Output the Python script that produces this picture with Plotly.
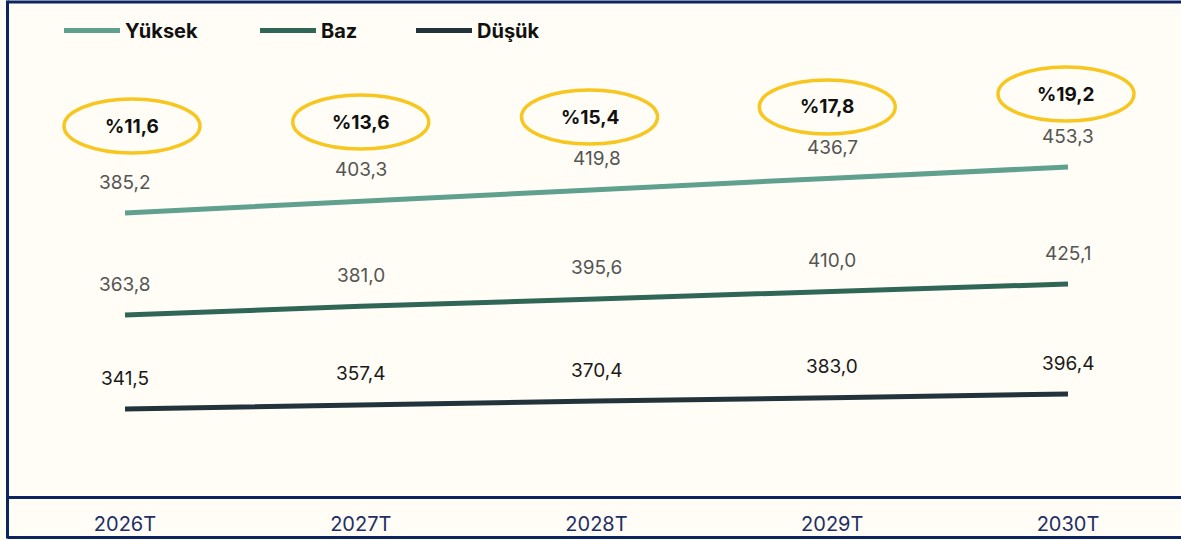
import plotly.graph_objects as go

# ---- data ----
years = ["2026T", "2027T", "2028T", "2029T", "2030T"]
yuksek = [385.2, 403.3, 419.8, 436.7, 453.3]
baz = [363.8, 381.0, 395.6, 410.0, 425.1]
dusuk = [341.5, 357.4, 370.4, 383.0, 396.4]
shares = ["%11,6", "%13,6", "%15,4", "%17,8", "%19,2"]

# ---- style ----
W, H = 1181, 540
M_B = 43
PH = H - M_B  # plot height in px
BG = "#FFFDF6"
NAVY = "#0C2461"
YELLOW = "#F7C620"
C_Y, C_B, C_D = "#5FA08E", "#2F6656", "#22333B"
FONT = "Inter, Open Sans, sans-serif"


def fmt(v):
    return f"{v:.1f}".replace(".", ",")


def py2paper(py):
    return (PH - py) / PH


def px2paper(px):
    return px / W


fig = go.Figure()
series = [
    ("Yüksek", yuksek, C_Y, "y", "#555555", "legend", 59),
    ("Baz", baz, C_B, "y2", "#555555", "legend2", 255),
    ("Düşük", dusuk, C_D, "y3", "#1a1a1a", "legend3", 411),
]
legend_cfg = {}
for name, vals, col, ax, lblcol, lg, lgx in series:
    fig.add_trace(go.Scatter(
        x=years, y=vals, name=name, mode="lines", yaxis=ax, legend=lg,
        line=dict(color=col, width=5), hoverinfo="skip",
    ))
    for x, v in zip(years, vals):
        fig.add_annotation(
            x=x, y=v, xref="x", yref=ax, text=fmt(v), showarrow=False,
            yshift=31, font=dict(family=FONT, size=19, color=lblcol),
        )
    legend_cfg[lg] = dict(
        orientation="h", x=px2paper(lgx), y=py2paper(11), xanchor="left", yanchor="top",
        font=dict(family=FONT, size=20, color="#111111", weight="bold"),
        itemwidth=56, bgcolor="rgba(0,0,0,0)", itemclick=False, itemdoubleclick=False,
    )

# ellipses with share percentages
ell_cy = [126, 122, 117, 107, 94]
ell_dx = [7, 0, -7, -5, -2]
for i, (s, cy, dx) in enumerate(zip(shares, ell_cy, ell_dx)):
    fig.add_shape(
        type="circle", xref="x", yref="paper",
        xsizemode="pixel", ysizemode="pixel",
        xanchor=i, yanchor=py2paper(cy),
        x0=dx - 68, x1=dx + 68, y0=-27, y1=27,
        line=dict(color=YELLOW, width=3.5), fillcolor="rgba(0,0,0,0)",
    )
    fig.add_annotation(
        x=i, y=py2paper(cy), xref="x", yref="paper", xshift=dx,
        xanchor="center", yanchor="middle",
        text=f"<b>{s}</b>", showarrow=False,
        font=dict(family=FONT, size=19, color="#111111"),
    )

# frame lines
lx = px2paper(7.5)
frame = [
    (lx, py2paper(2), 1.01, py2paper(2)),
    (lx, py2paper(0.5), lx, py2paper(538.5)),
    (lx, py2paper(497.5), 1.01, py2paper(497.5)),
    (lx, py2paper(537.5), 1.01, py2paper(537.5)),
]
for x0, y0, x1, y1 in frame:
    fig.add_shape(type="line", xref="paper", yref="paper",
                  x0=x0, y0=y0, x1=x1, y1=y1,
                  line=dict(color=NAVY, width=3))

fig.update_layout(
    width=W, height=H,
    margin=dict(l=0, r=0, t=0, b=M_B),
    paper_bgcolor=BG, plot_bgcolor=BG,
    showlegend=True,
    legend=legend_cfg["legend"],
    legend2=legend_cfg["legend2"],
    legend3=legend_cfg["legend3"],
    xaxis=dict(
        type="category", range=[-0.5302, 4.4793], showgrid=False, zeroline=False,
        showline=False, ticks="", ticklabelstandoff=13,
        tickfont=dict(family=FONT, size=20, color="#1E2F66"),
    ),
    yaxis=dict(range=[-35.2, 700.5], visible=False, fixedrange=True),
    yaxis2=dict(range=[3.9, 986.7], visible=False, overlaying="y", fixedrange=True),
    yaxis3=dict(range=[19.4, 1838.5], visible=False, overlaying="y", fixedrange=True),
)

fig.write_html(
    "out.html",
    config={"displayModeBar": False},
    post_script="document.body.style.margin='0';document.body.style.overflow='hidden';",
)
